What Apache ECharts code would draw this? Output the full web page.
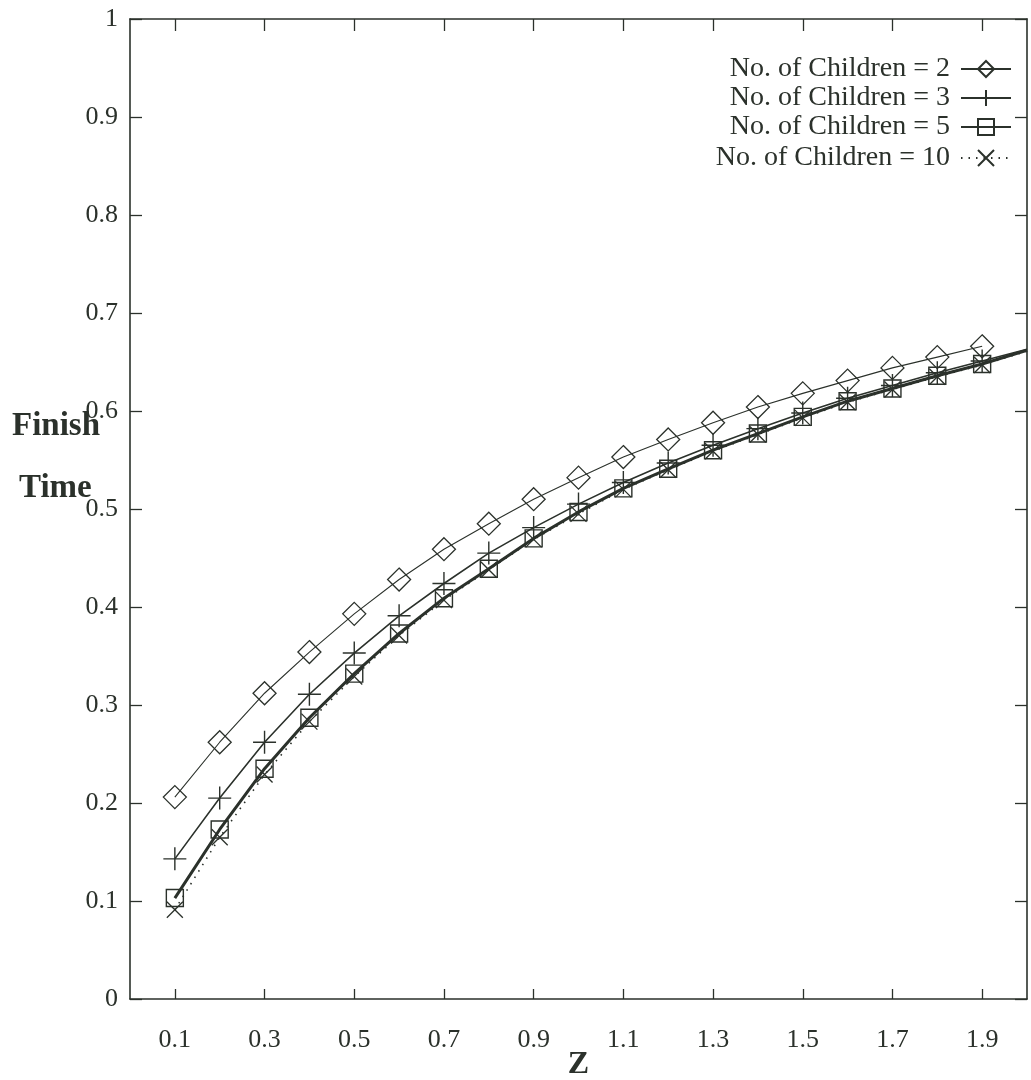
<!DOCTYPE html>
<html><head><meta charset="utf-8">
<script src="https://cdn.jsdelivr.net/npm/echarts@6/dist/echarts.min.js"></script>
<style>html,body{margin:0;padding:0;background:#fff}#c{width:1031px;height:1080px}</style>
</head><body><div id="c"></div>
<script>
// ---- data ----
const zValues = [0.1,0.2,0.3,0.4,0.5,0.6,0.7,0.8,0.9,1.0,1.1,1.2,1.3,1.4,1.5,1.6,1.7,1.8,1.9];
const xTickValues = [0.1,0.3,0.5,0.7,0.9,1.1,1.3,1.5,1.7,1.9];
const children2  = [0.206,0.262,0.312,0.354,0.393,0.428,0.459,0.485,0.510,0.532,0.553,0.571,0.588,0.604,0.618,0.631,0.644,0.655,0.666];
const children3  = [0.143,0.205,0.262,0.311,0.353,0.391,0.424,0.455,0.481,0.505,0.527,0.547,0.565,0.582,0.598,0.613,0.626,0.639,0.651];
const children5  = [0.103,0.173,0.235,0.287,0.332,0.373,0.409,0.439,0.470,0.497,0.521,0.541,0.560,0.577,0.594,0.610,0.623,0.636,0.648];
const children10 = [0.091,0.165,0.229,0.283,0.329,0.371,0.407,0.438,0.469,0.495,0.520,0.540,0.559,0.576,0.593,0.609,0.622,0.635,0.647];
const tailZ = 2.0;
const tail3 = 0.663, tail5 = 0.662, tail10 = 0.661;
const seriesNames = ['No. of Children = 2','No. of Children = 3','No. of Children = 5','No. of Children = 10'];

// ---- styling ----
const C = '#2b312b';
const FONT = '"Liberation Serif", "DejaVu Serif", serif';
const HOLLOW = 'rgba(255,255,255,0)';

function pts(vals, tailVal){
  const d = zValues.map((z,i)=>[z, vals[i]]);
  if (tailVal !== undefined) d.push({value:[tailZ, tailVal], symbol:'none'});
  return d;
}

const chart = echarts.init(document.getElementById('c'), null, {renderer:'canvas'});
const legendTops = [50, 79, 108, 139];

const axisLineStyle = {onZero:false, lineStyle:{color:C, width:1.6}};

const option = {
  animation: false,
  backgroundColor: '#fff',
  grid: {left: 130, right: 4, top: 19, bottom: 81, containLabel: false, outerBoundsMode: 'none'},
  xAxis: [
    {type:'value', min:0, max:2, position:'bottom',
     axisLine:axisLineStyle,
     axisTick:{inside:true, length:10, customValues:xTickValues, lineStyle:{color:C, width:1.3}},
     axisLabel:{customValues:xTickValues, formatter:v=>v.toFixed(1), fontSize:26, fontFamily:FONT, color:C, margin:28},
     splitLine:{show:false},
     name:'Z', nameLocation:'middle', nameGap:50, nameMoveOverlap:false,
     nameTextStyle:{fontFamily:FONT, fontWeight:'bold', fontSize:32, color:C}},
    {type:'value', min:0, max:2, position:'top',
     axisLine:axisLineStyle,
     axisTick:{inside:true, length:12, customValues:xTickValues, lineStyle:{color:C, width:1.3}},
     axisLabel:{show:false}, splitLine:{show:false}}
  ],
  yAxis: [
    {type:'value', min:0, max:1, interval:0.1, position:'left',
     axisLine:axisLineStyle,
     axisTick:{inside:true, length:12, lineStyle:{color:C, width:1.3}},
     axisLabel:{fontSize:26, fontFamily:FONT, color:C, margin:12,
       formatter:v=> (Math.abs(v)<1e-9 ? '0' : Math.abs(v-1)<1e-9 ? '1' : v.toFixed(1))},
     splitLine:{show:false}},
    {type:'value', min:0, max:1, interval:0.1, position:'right',
     axisLine:axisLineStyle,
     axisTick:{inside:true, length:12, lineStyle:{color:C, width:1.3}},
     axisLabel:{show:false}, splitLine:{show:false}}
  ],
  legend: seriesNames.map((n,i)=>({
    data:[n], orient:'horizontal', align:'right', right:14, top:legendTops[i],
    itemWidth:50, itemHeight:20, selectedMode:false,
    textStyle:{fontFamily:FONT, fontSize:28, color:C, padding:[0,6,0,0]}
  })),
  graphic: [
    {type:'text', left:12, top:410, style:{text:'Finish', font:'bold 33px "Liberation Serif"', fill:C}},
    {type:'text', left:19, top:472, style:{text:'Time', font:'bold 33px "Liberation Serif"', fill:C}}
  ],
  series: [
    {name:seriesNames[0], type:'line', data:pts(children2), symbol:'diamond', symbolSize:[23,23],
     itemStyle:{color:HOLLOW, borderColor:C, borderWidth:1.3},
     lineStyle:{color:C, width:1.1}, z:2},
    {name:seriesNames[1], type:'line', data:pts(children3, tail3),
     symbol:'path://M0,10L20,10M10,0L10,20', symbolSize:[23,23],
     itemStyle:{color:HOLLOW, borderColor:C, borderWidth:1.4},
     lineStyle:{color:C, width:1.6}, z:3},
    {name:seriesNames[2], type:'line', data:pts(children5, tail5), symbol:'rect', symbolSize:[17,17],
     itemStyle:{color:HOLLOW, borderColor:C, borderWidth:1.4},
     lineStyle:{color:C, width:3}, z:4},
    {name:seriesNames[3], type:'line', data:pts(children10, tail10),
     symbol:'path://M0,0L20,20M20,0L0,20', symbolSize:[16,16],
     itemStyle:{color:HOLLOW, borderColor:C, borderWidth:1.3},
     lineStyle:{color:C, width:1.6, type:[1.5,6]}, z:5}
  ]
};
chart.setOption(option);
</script>
</body></html>
